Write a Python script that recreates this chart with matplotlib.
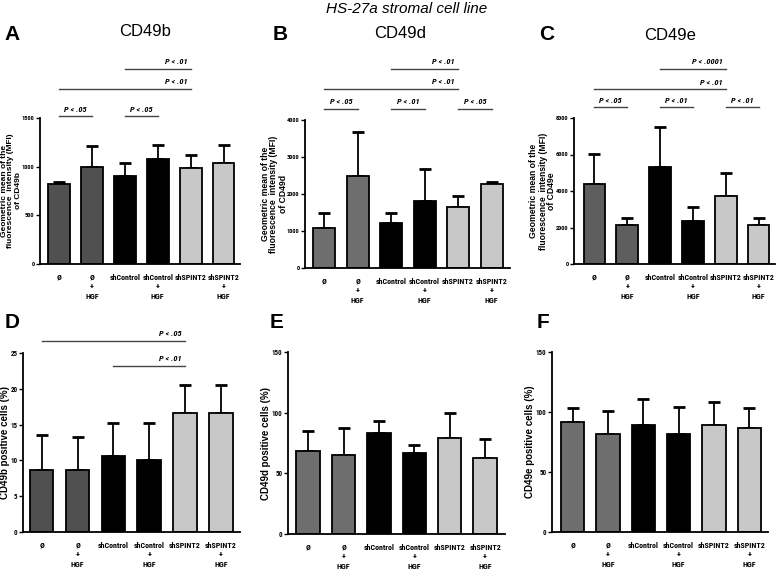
import matplotlib
matplotlib.use("Agg")
import matplotlib.pyplot as plt
import numpy as np

plt.rcParams['font.family'] = ['Liberation Sans', 'DejaVu Sans']

# categories
labels = ["Ø", "Ø\n+\nHGF", "shControl", "shControl\n+\nHGF", "shSPINT2", "shSPINT2\n+\nHGF"]

# MFI panels (mean and upper SD)
mfi_b = [820, 1000, 900, 1075, 990, 1035]
mfi_b_err = [20, 210, 140, 150, 130, 190]
mfi_d = [1070, 2490, 1220, 1800, 1650, 2280]
mfi_d_err = [420, 1190, 260, 870, 290, 50]
mfi_e = [4370, 2130, 5300, 2370, 3700, 2150]
mfi_e_err = [1650, 370, 2180, 730, 1280, 350]

# positive cells (%)
pos_b = [8.6, 8.6, 10.6, 10.0, 16.6, 16.6]
pos_b_err = [5.0, 4.6, 4.6, 5.2, 4.0, 4.0]
pos_d = [68, 65.5, 83, 66.5, 79, 62.5]
pos_d_err = [17, 21.5, 10.5, 7, 20.5, 15.5]
pos_e = [92, 81.5, 89, 81.5, 89, 86.5]
pos_e_err = [11.5, 19.5, 21.5, 23, 19, 17]

# significance brackets: (from, to, height, text)
sig_a = [(0, 1, 1520, "P < .05"), (2, 3, 1520, "P < .05"), (0, 4, 1800, "P < .01"), (2, 4, 2005, "P < .01")]
sig_b = [(0, 1, 4300, "P < .05"), (2, 3, 4300, "P < .01"), (4, 5, 4300, "P < .05"),
         (0, 4, 4840, "P < .01"), (2, 4, 5380, "P < .01")]
sig_c = [(0, 1, 8600, "P < .05"), (2, 3, 8600, "P < .01"), (4, 5, 8600, "P < .01"),
         (0, 4, 9590, "P < .01"), (2, 4, 10690, "P < .0001")]
sig_d = [(0, 4, 26.7, "P < .05"), (2, 4, 23.2, "P < .01")]
sig_e = []
sig_f = []

# narrow bold face for ticks and p-values
narrow = ["Roboto Condensed", "DejaVu Sans"]

W, H = 777, 583
fig = plt.figure(figsize=(7.77, 5.83), dpi=100)

def px_axes(left, right, y0, ytop):
    return fig.add_axes([left / W, 1 - y0 / H, (right - left) / W, (y0 - ytop) / H])

def panel(ax, vals, errs, ymax, yticks, xlim, ylabel, label_dx, label_size, ytick_size, sigs, dark):
    colors = [dark, dark, "#000000", "#000000", "#c8c8c8", "#c8c8c8"]
    x = np.arange(len(vals))
    ax.bar(x, vals, width=0.66, color=colors, edgecolor="black", linewidth=1.3, zorder=2)
    ax.errorbar(x, vals, yerr=[np.zeros(len(errs)), errs], fmt="none", ecolor="black",
                elinewidth=1.3, capsize=4.5, capthick=2, zorder=1)
    ax.set_xlim(*xlim)
    ax.set_ylim(0, ymax)
    ax.set_yticks(yticks)
    ax.set_yticklabels([str(t) for t in yticks], fontweight="bold", family=narrow, size=ytick_size)
    ax.set_xticks(x)
    ax.set_xticklabels(labels, fontweight="bold", linespacing=1.45, family=narrow, size=5.8)
    ax.tick_params(axis="x", length=0, pad=7)
    ax.tick_params(axis="y", length=3, width=1, pad=1)
    for s in ["top", "right"]:
        ax.spines[s].set_visible(False)
    for s in ["left", "bottom"]:
        ax.spines[s].set_linewidth(1.3)
    ax.set_ylabel(ylabel, fontweight="bold", fontsize=label_size, linespacing=1.0, va="center")
    width_px = ax.get_position().width * W
    ax.yaxis.set_label_coords(label_dx / width_px, 0.5)
    for i, j, yy, txt in sigs:
        ax.plot([i, j], [yy, yy], color="#444444", lw=1, clip_on=False)
        if j - i == 1:
            xt, ha = 0.5 * (i + j), "center"
        else:
            xt, ha = j - 0.1, "right"
        ax.annotate(txt, (xt, yy), xytext=(0, 2.5), textcoords="offset points",
                    ha=ha, va="bottom", style="italic", fontweight="bold",
                    annotation_clip=False, family=narrow, size=6)

axA = px_axes(40, 240, 264, 118)
panel(axA, mfi_b, mfi_b_err, 1500, [0, 500, 1000, 1500], (-0.58, 5.5),
      "Geometric mean of the\nfluorescence  intensity (MFI)\nof CD49b", -29, 6.0, 4.6, sig_a, "#505050")
axB = px_axes(305, 510, 268, 120)
panel(axB, mfi_d, mfi_d_err, 4000, [0, 1000, 2000, 3000, 4000], (-0.57, 5.55),
      "Geometric mean of the\nfluorescence  intensity (MFI)\nof CD49d", -31, 6.2, 4.6, sig_b, "#6e6e6e")
axC = px_axes(574, 775, 264, 118)
panel(axC, mfi_e, mfi_e_err, 8000, [0, 2000, 4000, 6000, 8000], (-0.62, 5.5),
      "Geometric mean of the\nfluorescence  intensity (MFI)\nof CD49e", -31, 6.2, 4.6, sig_c, "#5e5e5e")

axD = px_axes(23, 240, 532, 353)
panel(axD, pos_b, pos_b_err, 25, [0, 5, 10, 15, 20, 25], (-0.52, 5.53),
      "CD49b positive cells (%)", -18, 7, 5.0, sig_d, "#505050")
axE = px_axes(288, 505, 534, 352)
panel(axE, pos_d, pos_d_err, 150, [0, 50, 100, 150], (-0.57, 5.56),
      "CD49d positive cells (%)", -22, 7, 5.0, sig_e, "#6e6e6e")
axF = px_axes(552, 768, 532, 352)
panel(axF, pos_e, pos_e_err, 150, [0, 50, 100, 150], (-0.58, 5.53),
      "CD49e positive cells (%)", -22, 7, 5.0, sig_f, "#6e6e6e")

# titles and panel letters
fig.text(407 / W, 1 - 9 / H, "HS-27a stromal cell line", ha="center", va="center",
         fontsize=11, style="italic")
for lx, ly, letter in [(12, 35, "A"), (280, 35, "B"), (547, 35, "C"),
                       (12, 323, "D"), (277, 323, "E"), (543, 323, "F")]:
    fig.text(lx / W, 1 - ly / H, letter, ha="center", va="center", fontsize=15, fontweight="bold")
for tx, ty, t in [(145, 32, "CD49b"), (400, 33, "CD49d"), (670, 35, "CD49e")]:
    fig.text(tx / W, 1 - ty / H, t, ha="center", va="center", fontsize=12)

fig.savefig("out.png", dpi=100)
